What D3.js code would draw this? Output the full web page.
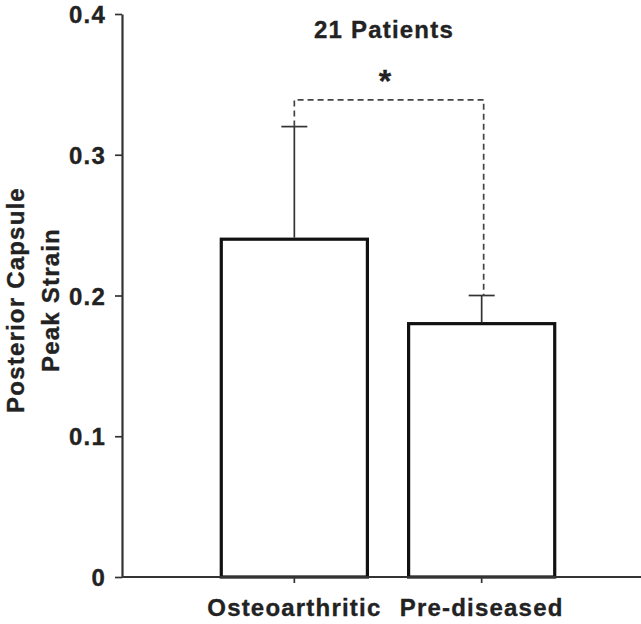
<!DOCTYPE html>
<html>
<head>
<meta charset="utf-8">
<script src="https://cdn.jsdelivr.net/npm/d3@7"></script>
<style>
  body { margin: 0; background: #fff; }
  svg text { font-family: "Liberation Sans", Arial, sans-serif; font-weight: bold; fill: #222; stroke: #222; stroke-width: 0.35px; letter-spacing: 1.2px; }
</style>
</head>
<body>
<svg></svg>
<script>
const groups = ["Osteoarthritic", "Pre-diseased"];
const means = [0.24, 0.18];
const errors = [0.08, 0.02];
const yTicks = [0, 0.1, 0.2, 0.3, 0.4];
const bracketLevel = 0.339;
const title = "21 Patients";
const yLabel = ["Posterior Capsule", "Peak Strain"];

const width = 641;
const height = 624;

const svg = d3.select("svg")
    .attr("width", width)
    .attr("height", height);

// scales
const x = d3.scaleBand()
    .domain(groups)
    .range([122, 654])
    .paddingInner(0.22)
    .paddingOuter(0.53);

const y = d3.scaleLinear()
    .domain([0, 0.4])
    .range([577, 14]);

const data = groups.map((g, i) => ({ group: g, mean: means[i], err: errors[i] }));
const cx = d => x(d.group) + x.bandwidth() / 2;

// bars
svg.selectAll("rect.bar")
    .data(data)
    .enter()
    .append("rect")
    .attr("class", "bar")
    .attr("x", d => x(d.group))
    .attr("y", d => y(d.mean))
    .attr("width", x.bandwidth())
    .attr("height", d => y(0) - y(d.mean))
    .attr("fill", "#fff")
    .attr("stroke", "#111")
    .attr("stroke-width", 3.2);

// error bars (upper only)
svg.selectAll("line.err")
    .data(data)
    .enter()
    .append("line")
    .attr("x1", cx).attr("x2", cx)
    .attr("y1", d => y(d.mean) - 1.5)
    .attr("y2", d => y(d.mean + d.err))
    .attr("stroke", "#333")
    .attr("stroke-width", 1.7);

svg.selectAll("line.cap")
    .data(data)
    .enter()
    .append("line")
    .attr("x1", d => cx(d) - 13).attr("x2", d => cx(d) + 13)
    .attr("y1", d => y(d.mean + d.err))
    .attr("y2", d => y(d.mean + d.err))
    .attr("stroke", "#333")
    .attr("stroke-width", 1.7);

// significance bracket
const a = data[0], b = data[1];
svg.append("path")
    .attr("d", d3.line()([
        [cx(a), y(a.mean + a.err)],
        [cx(a), y(bracketLevel)],
        [cx(b) + 2, y(bracketLevel)],
        [cx(b) + 2, y(b.mean + b.err)]
    ]))
    .attr("fill", "none")
    .attr("stroke", "#444")
    .attr("stroke-width", 1.7)
    .attr("stroke-dasharray", "6,4");

svg.append("text")
    .attr("x", (cx(a) + cx(b)) / 2 - 3)
    .attr("y", 92)
    .attr("text-anchor", "middle")
    .style("font-size", "32px")
    .style("letter-spacing", "0px")
    .text("*");

svg.append("text")
    .attr("x", 384)
    .attr("y", 38)
    .attr("text-anchor", "middle")
    .style("font-size", "24px")
    .text(title);

// axes
const yAxis = d3.axisLeft(y)
    .tickValues(yTicks)
    .tickSize(7)
    .tickSizeOuter(0)
    .tickPadding(9)
    .tickFormat(d => d === 0 ? "0" : d3.format(".1f")(d));

const gy = svg.append("g")
    .attr("transform", "translate(122,0)")
    .call(yAxis);

const xAxis = d3.axisBottom(x)
    .tickSize(6)
    .tickSizeOuter(0)
    .tickPadding(16);

const gx = svg.append("g")
    .attr("transform", "translate(0,577)")
    .call(xAxis);

gx.select(".domain").attr("d", "M122,0H641");

[gx, gy].forEach(g => {
    g.select(".domain").attr("stroke", "#333").attr("stroke-width", 2.2);
    g.selectAll(".tick line").attr("stroke", "#333").attr("stroke-width", 1.7);
    g.selectAll(".tick text").attr("fill", "#222").style("font-size", "24px");
});
gy.selectAll(".tick text").attr("dy", "0.36em");

// y label, two lines
const yl = svg.append("text")
    .attr("transform", "translate(0,300) rotate(-90)")
    .attr("text-anchor", "middle")
    .style("font-size", "24px");
yl.selectAll("tspan")
    .data(yLabel)
    .enter()
    .append("tspan")
    .attr("x", 0)
    .attr("y", (d, i) => 24 + i * 35)
    .text(d => d);
</script>
</body>
</html>
